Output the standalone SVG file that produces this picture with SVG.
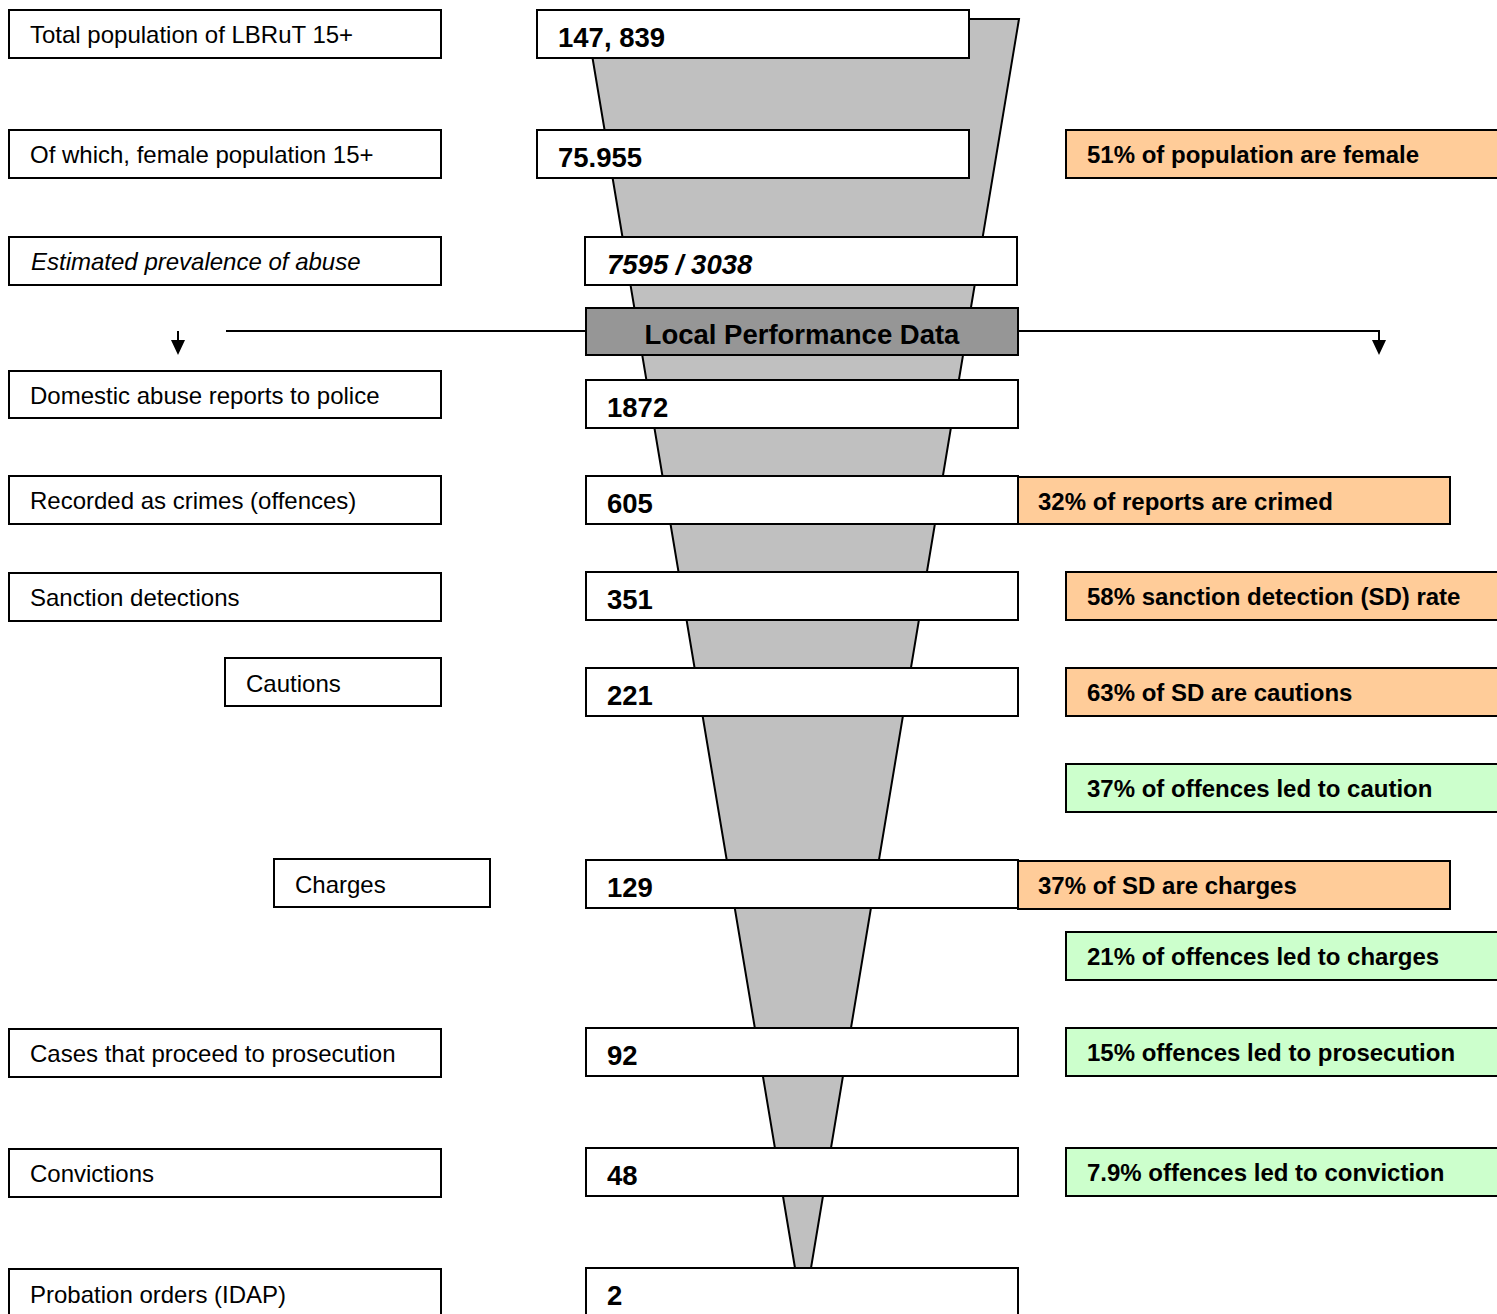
<svg xmlns="http://www.w3.org/2000/svg" width="1497" height="1314" viewBox="0 0 1497 1314">
<style>
.box{fill:#fff;stroke:#000;stroke-width:2}
.org{fill:#FFCC99;stroke:#000;stroke-width:2}
.grn{fill:#CCFFCC;stroke:#000;stroke-width:2}
.lpd{fill:#969696;stroke:#000;stroke-width:2}
.lbl{font-family:"Liberation Sans",Arial,sans-serif;font-size:24px;fill:#000}
.num{font-family:"Liberation Sans",Arial,sans-serif;font-size:27.5px;font-weight:bold;fill:#000}
.pct{font-family:"Liberation Sans",Arial,sans-serif;font-size:24px;font-weight:bold;fill:#000}
.ln{fill:none;stroke:#000;stroke-width:2}
</style>
<g id="funnel">
<polygon points="586,19 1019,19 811,1268 795,1268" fill="#C0C0C0" stroke="#000" stroke-width="2"/>
</g>
<g id="connectors">
<line class="ln" x1="226" y1="331" x2="587" y2="331"/>
<path class="ln" d="M1018,331 H1379 V340"/>
<path d="M1372,340 L1386,340 L1379,355 Z" fill="#000"/>
<line class="ln" x1="178" y1="331" x2="178" y2="341"/>
<path d="M171,340 L185,340 L178,355 Z" fill="#000"/>
</g>
<g id="left-labels">
<g id="l1"><rect class="box" x="9" y="10" width="432" height="48"/><text class="lbl" x="30" y="43">Total population of LBRuT 15+</text></g>
<g id="l2"><rect class="box" x="9" y="130" width="432" height="48"/><text class="lbl" x="30" y="163">Of which, female population 15+</text></g>
<g id="l3"><rect class="box" x="9" y="237" width="432" height="48"/><text class="lbl" x="31" y="270" font-style="italic">Estimated prevalence of abuse</text></g>
<g id="l4"><rect class="box" x="9" y="371" width="432" height="47"/><text class="lbl" x="30" y="404">Domestic abuse reports to police</text></g>
<g id="l5"><rect class="box" x="9" y="476" width="432" height="48"/><text class="lbl" x="30" y="509">Recorded as crimes (offences)</text></g>
<g id="l6"><rect class="box" x="9" y="573" width="432" height="48"/><text class="lbl" x="30" y="606">Sanction detections</text></g>
<g id="l7"><rect class="box" x="225" y="658" width="216" height="48"/><text class="lbl" x="246" y="692">Cautions</text></g>
<g id="l8"><rect class="box" x="274" y="859" width="216" height="48"/><text class="lbl" x="295" y="893">Charges</text></g>
<g id="l9"><rect class="box" x="9" y="1029" width="432" height="48"/><text class="lbl" x="30" y="1062">Cases that proceed to prosecution</text></g>
<g id="l10"><rect class="box" x="9" y="1149" width="432" height="48"/><text class="lbl" x="30" y="1182">Convictions</text></g>
<g id="l11"><rect class="box" x="9" y="1269" width="432" height="60"/><text class="lbl" x="30" y="1303">Probation orders (IDAP)</text></g>
</g>
<g id="values">
<g id="v1"><rect class="box" x="537" y="10" width="432" height="48"/><text class="num" x="558" y="47">147, 839</text></g>
<g id="v2"><rect class="box" x="537" y="130" width="432" height="48"/><text class="num" x="558" y="167">75.955</text></g>
<g id="v3"><rect class="box" x="585" y="237" width="432" height="48"/><text class="num" x="607" y="274" font-style="italic">7595 / 3038</text></g>
<g id="lpd"><rect class="lpd" x="586" y="308" width="432" height="47"/><text class="num" x="802" y="344" text-anchor="middle" font-size="28px">Local Performance Data</text></g>
<g id="v4"><rect class="box" x="586" y="380" width="432" height="48"/><text class="num" x="607" y="417">1872</text></g>
<g id="v5"><rect class="box" x="586" y="476" width="432" height="48"/><text class="num" x="607" y="513">605</text></g>
<g id="v6"><rect class="box" x="586" y="572" width="432" height="48"/><text class="num" x="607" y="609">351</text></g>
<g id="v7"><rect class="box" x="586" y="668" width="432" height="48"/><text class="num" x="607" y="705">221</text></g>
<g id="v8"><rect class="box" x="586" y="860" width="432" height="48"/><text class="num" x="607" y="897">129</text></g>
<g id="v9"><rect class="box" x="586" y="1028" width="432" height="48"/><text class="num" x="607" y="1065">92</text></g>
<g id="v10"><rect class="box" x="586" y="1148" width="432" height="48"/><text class="num" x="607" y="1185">48</text></g>
<g id="v11"><rect class="box" x="586" y="1268" width="432" height="60"/><text class="num" x="607" y="1305">2</text></g>
</g>
<g id="rates">
<g id="r1"><rect class="org" x="1066" y="130" width="440" height="48"/><text class="pct" x="1087" y="163">51% of population are female</text></g>
<g id="r2"><rect class="org" x="1018" y="477" width="432" height="47"/><text class="pct" x="1038" y="510">32% of reports are crimed</text></g>
<g id="r3"><rect class="org" x="1066" y="572" width="440" height="48"/><text class="pct" x="1087" y="605">58% sanction detection (SD) rate</text></g>
<g id="r4"><rect class="org" x="1066" y="668" width="440" height="48"/><text class="pct" x="1087" y="701">63% of SD are cautions</text></g>
<g id="r5"><rect class="grn" x="1066" y="764" width="440" height="48"/><text class="pct" x="1087" y="797">37% of offences led to caution</text></g>
<g id="r6"><rect class="org" x="1018" y="861" width="432" height="48"/><text class="pct" x="1038" y="894">37% of SD are charges</text></g>
<g id="r7"><rect class="grn" x="1066" y="932" width="440" height="48"/><text class="pct" x="1087" y="965">21% of offences led to charges</text></g>
<g id="r8"><rect class="grn" x="1066" y="1028" width="440" height="48"/><text class="pct" x="1087" y="1061">15% offences led to prosecution</text></g>
<g id="r9"><rect class="grn" x="1066" y="1148" width="440" height="48"/><text class="pct" x="1087" y="1181">7.9% offences led to conviction</text></g>
</g>
</svg>
